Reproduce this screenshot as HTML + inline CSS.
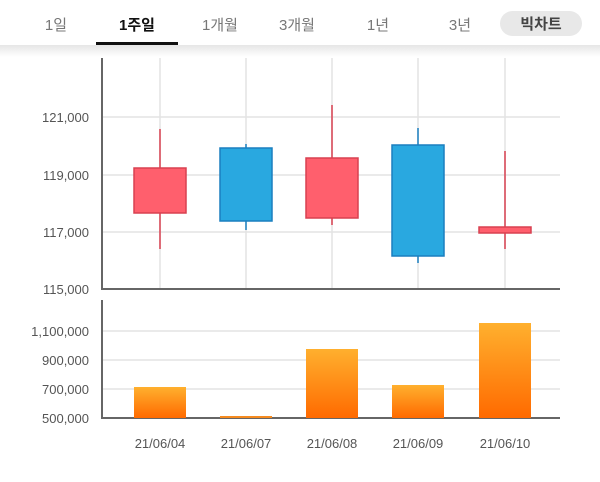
<!DOCTYPE html>
<html><head><meta charset="utf-8"><style>
body{margin:0;width:600px;height:477px;background:#fff;overflow:hidden;font-family:"Liberation Sans","Noto Sans CJK KR",sans-serif}
</style></head><body>
<svg width="600" height="477" xmlns="http://www.w3.org/2000/svg" font-family="Liberation Sans, Noto Sans CJK KR, sans-serif">
<defs>
<linearGradient id="sh" x1="0" y1="0" x2="0" y2="1"><stop offset="0" stop-color="#e6e6e6"/><stop offset="1" stop-color="#fff"/></linearGradient>
<linearGradient id="og" x1="0" y1="0" x2="0" y2="1"><stop offset="0" stop-color="#ffb02e"/><stop offset="1" stop-color="#ff6a00"/></linearGradient>
</defs>
<rect x="0" y="45" width="600" height="12" fill="url(#sh)"/>
<g font-size="15" fill="#777" text-anchor="middle">
<text x="56" y="30">1일</text>
<text x="137" y="30" fill="#111" font-weight="bold">1주일</text>
<text x="220" y="30">1개월</text>
<text x="297" y="30">3개월</text>
<text x="378" y="30">1년</text>
<text x="460" y="30">3년</text>
</g>
<rect x="96" y="42" width="82" height="3" fill="#111"/>
<rect x="500" y="11" width="82" height="25" rx="12.5" fill="#e8e8e8"/>
<text x="541" y="29" font-size="15" font-weight="bold" fill="#444" text-anchor="middle">빅차트</text>
<g stroke="#e3e3e3" stroke-width="1.5">
<line x1="160" y1="58" x2="160" y2="288"/><line x1="246" y1="58" x2="246" y2="288"/><line x1="332" y1="58" x2="332" y2="288"/><line x1="418" y1="58" x2="418" y2="288"/><line x1="505" y1="58" x2="505" y2="288"/>
<line x1="102" y1="117" x2="560" y2="117"/><line x1="102" y1="175" x2="560" y2="175"/><line x1="102" y1="232" x2="560" y2="232"/>
<line x1="102" y1="331" x2="560" y2="331"/><line x1="102" y1="360" x2="560" y2="360"/><line x1="102" y1="389" x2="560" y2="389"/>
</g>
<g stroke="#666" stroke-width="2" fill="none">
<polyline points="102,58 102,289 560,289"/>
<polyline points="102,300 102,418 560,418"/>
</g>
<g font-size="13" fill="#555" text-anchor="end">
<text x="89" y="122">121,000</text><text x="89" y="180">119,000</text><text x="89" y="237">117,000</text><text x="89" y="294">115,000</text>
<text x="89" y="336">1,100,000</text><text x="89" y="365">900,000</text><text x="89" y="394">700,000</text><text x="89" y="423">500,000</text>
</g>
<g font-size="13" fill="#555" text-anchor="middle">
<text x="160" y="448">21/06/04</text><text x="246" y="448">21/06/07</text><text x="332" y="448">21/06/08</text><text x="418" y="448">21/06/09</text><text x="505" y="448">21/06/10</text>
</g>
<g stroke-width="1.5">
<line x1="160" y1="129" x2="160" y2="249" stroke="#d84050"/>
<rect x="134" y="168" width="52" height="45" fill="#ff5f6d" stroke="#d84050"/>
<line x1="246" y1="144" x2="246" y2="230" stroke="#1a7fbf"/>
<rect x="220" y="148" width="52" height="73" fill="#29a8e0" stroke="#1a7fbf"/>
<line x1="332" y1="105" x2="332" y2="225" stroke="#d84050"/>
<rect x="306" y="158" width="52" height="60" fill="#ff5f6d" stroke="#d84050"/>
<line x1="418" y1="128" x2="418" y2="263" stroke="#1a7fbf"/>
<rect x="392" y="145" width="52" height="111" fill="#29a8e0" stroke="#1a7fbf"/>
<line x1="505" y1="151" x2="505" y2="249" stroke="#d84050"/>
<rect x="479" y="227" width="52" height="6" fill="#ff5f6d" stroke="#d84050"/>
</g>
<g fill="url(#og)">
<rect x="134" y="387" width="52" height="31"/>
<rect x="220" y="416" width="52" height="2" fill="#f58a1f"/>
<rect x="306" y="349" width="52" height="69"/>
<rect x="392" y="385" width="52" height="33"/>
<rect x="479" y="323" width="52" height="95"/>
</g>
</svg>
</body></html>
